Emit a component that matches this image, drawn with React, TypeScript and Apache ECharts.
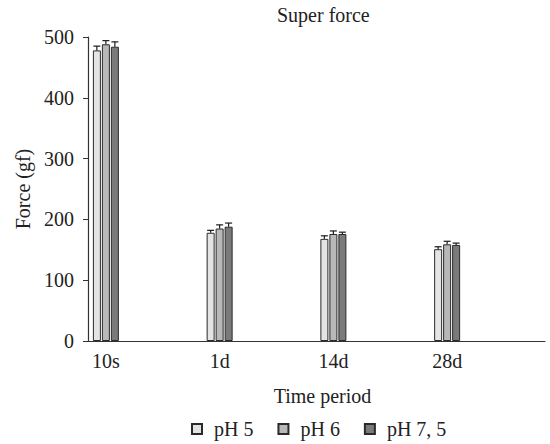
import React, { useEffect, useRef } from "react";
import * as echarts from "echarts";

const categories = ["10s", "1d", "14d", "28d"];
const seriesNames = ["pH 5", "pH 6", "pH 7, 5"];
const ph5 = [478, 178, 168, 151];
const ph6 = [488, 185, 176, 159];
const ph75 = [484, 188, 176, 158];
const ph5Err = [7, 4, 5, 4];
const ph6Err = [6, 6, 5, 5];
const ph75Err = [8, 6, 3, 3];
const yTicks = [0, 100, 200, 300, 400, 500];

const FONT = "'Liberation Serif', 'DejaVu Serif', serif";
const TXT = "#222";
const colors = ["#e4e4e4", "#b8b8b8", "#7a7a7a"];
const offsets = [-9, 0, 9];

export default function App() {
  const ref = useRef<HTMLDivElement>(null);
  useEffect(() => {
    document.body.style.margin = "0";
    if (!ref.current) return;
    const chart = echarts.init(ref.current, null, { renderer: "svg" });
    const values = [ph5, ph6, ph75];
    const errs = [ph5Err, ph6Err, ph75Err];
    const gridTop = 37;
    const gridBottom = 103;

    const barSeries = seriesNames.map((name, k) => ({
      name,
      type: "bar",
      xAxisIndex: 0,
      yAxisIndex: 0,
      barWidth: 8,
      barGap: "12.5%",
      data: values[k],
      itemStyle: { color: colors[k], borderColor: "#2a2a2a", borderWidth: 1 },
    }));

    const errSeries = seriesNames.map((name, k) => ({
      name: name + " err",
      type: "custom",
      xAxisIndex: 0,
      yAxisIndex: 0,
      z: 5,
      data: categories.map((_, i) => [i, values[k][i], errs[k][i]]),
      encode: { x: 0, y: 1 },
      renderItem: (params: any, api: any) => {
        const idx = api.value(0);
        const v = api.value(1);
        const e = api.value(2);
        const base = api.coord([idx, v]);
        const top = api.coord([idx, v + e]);
        const x = base[0] + offsets[k];
        const st = { stroke: "#1a1a1a", lineWidth: 1.2 };
        return {
          type: "group",
          children: [
            { type: "line", shape: { x1: x, y1: base[1], x2: x, y2: top[1] }, style: st },
            { type: "line", shape: { x1: x - 3.5, y1: top[1], x2: x + 3.5, y2: top[1] }, style: st },
          ],
        };
      },
    }));

    chart.setOption({
      animation: false,
      title: {
        text: "Super force",
        left: 272,
        top: 0,
        textStyle: { fontFamily: FONT, fontSize: 20, fontWeight: "normal", color: TXT },
      },
      legend: {
        data: seriesNames,
        left: 186,
        top: 414,
        icon: "rect",
        itemWidth: 10,
        itemHeight: 10,
        itemGap: 24,
        textStyle: { fontFamily: FONT, fontSize: 20, color: TXT, padding: [0, 0, 0, 7] },
      },
      grid: [
        { left: 49, right: 46, top: gridTop, bottom: gridBottom },
        { left: 88, right: 5, top: gridTop, bottom: gridBottom },
      ],
      xAxis: [
        {
          type: "category",
          gridIndex: 0,
          data: categories,
          axisLine: { show: false },
          axisTick: { show: false },
          axisLabel: { margin: 10, fontFamily: FONT, fontSize: 20, color: TXT },
        },
        {
          type: "value",
          gridIndex: 1,
          min: 0,
          max: 1,
          axisLine: { show: true, lineStyle: { color: "#333", width: 1.2 } },
          axisTick: { show: false },
          axisLabel: { show: false },
          splitLine: { show: false },
          name: "Time period",
          nameLocation: "middle",
          nameGap: 45,
          nameTextStyle: { fontFamily: FONT, fontSize: 20, color: TXT, padding: [0, 0, 0, 12] },
        },
      ],
      yAxis: [
        {
          type: "value",
          gridIndex: 0,
          min: yTicks[0],
          max: yTicks[yTicks.length - 1],
          interval: 100,
          show: false,
        },
        {
          type: "value",
          gridIndex: 1,
          min: yTicks[0],
          max: yTicks[yTicks.length - 1],
          interval: 100,
          axisLine: { show: true, lineStyle: { color: "#333", width: 1.2 } },
          axisTick: { show: true, inside: false, length: 5, lineStyle: { color: "#333" } },
          axisLabel: { margin: 14, fontFamily: FONT, fontSize: 20, color: TXT },
          splitLine: { show: false },
          name: "Force (gf)",
          nameLocation: "middle",
          nameGap: 55,
          nameTextStyle: { fontFamily: FONT, fontSize: 20, color: TXT },
        },
      ],
      series: [...barSeries, ...errSeries],
    });
    return () => chart.dispose();
  }, []);
  return <div ref={ref} style={{ width: 550, height: 444 }} />;
}
